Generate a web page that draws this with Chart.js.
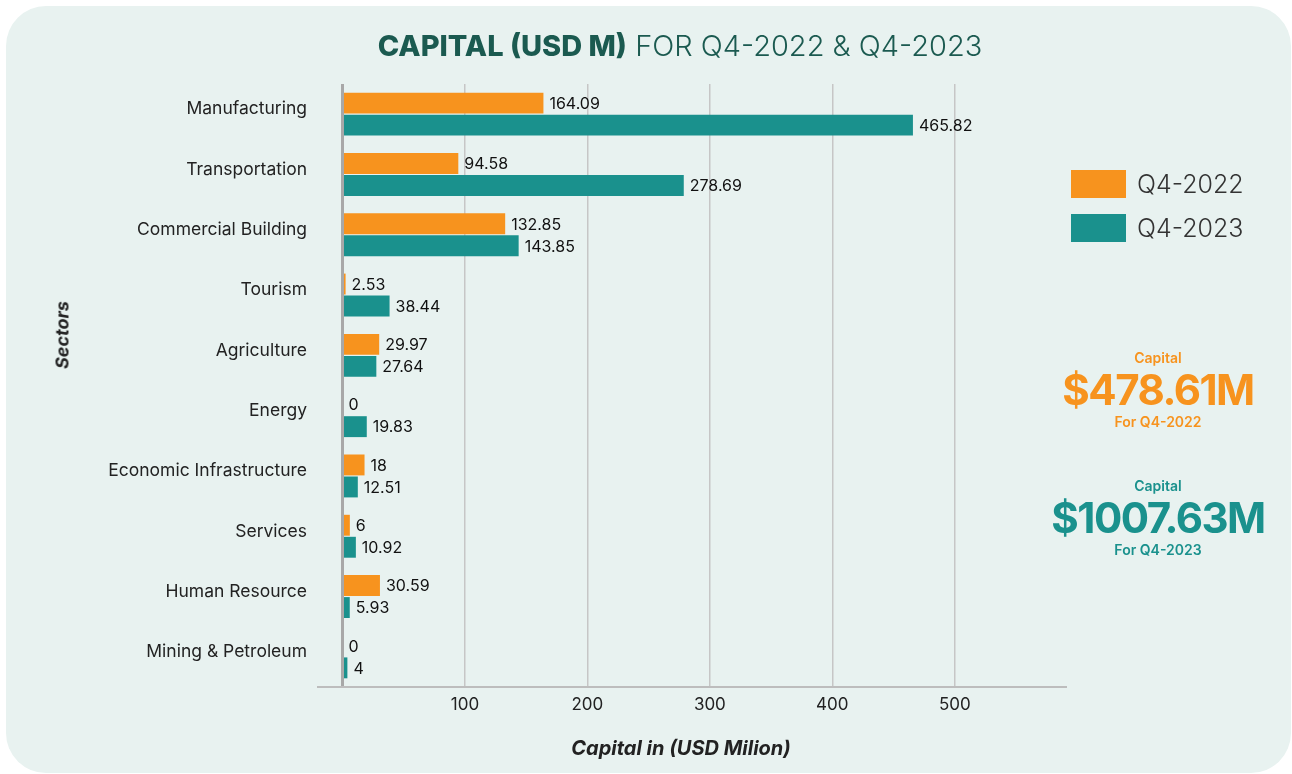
<!DOCTYPE html>
<html>
<head>
<meta charset="utf-8">
<title>Capital (USD M) Q4-2022 & Q4-2023</title>
<script src="https://cdn.jsdelivr.net/npm/chart.js@4"></script>
<style>
    body { margin: 0; background: #ffffff; font-family: Inter, "Noto Sans", sans-serif; }
    .tarjeta { position: absolute; left: 6px; top: 6px; width: 1285px; height: 767px; background: #e8f2f0; border-radius: 40px; }
    #graficoBarras { position: absolute; left: 0; top: 0; }
    .texto { position: absolute; white-space: nowrap; }
    .titulo { left: 180px; width: 1000px; top: 28px; text-align: center; font-size: 29px; line-height: 36px; color: #1b5a50; font-weight: 300; }
    .titulo b { font-weight: 800; }
    .ejeY { left: 62px; top: 335px; transform: translate(-50%, -50%) rotate(-90deg); font-size: 18px; font-weight: 700; font-style: italic; color: #222; }
    .ejeX { left: 681px; top: 748px; transform: translate(-50%, -50%); font-size: 20px; font-weight: 700; font-style: italic; color: #222; }
    .leyenda { position: absolute; left: 1071px; top: 170px; }
    .leyenda div { display: flex; align-items: center; height: 28px; margin-bottom: 16px; font-size: 25px; font-weight: 300; color: #333; }
    .leyenda span { display: inline-block; width: 55px; height: 28px; margin-right: 11px; }
    .kpi { left: 1158px; transform: translate(-50%, -50%); text-align: center; }
    .kpi.chico { font-size: 14px; font-weight: 600; }
    .kpi.grande { font-size: 42px; font-weight: 700; letter-spacing: -1.5px; }
</style>
</head>
<body>
<div class="tarjeta"></div>
<canvas id="graficoBarras" width="1292" height="774"></canvas>
<div class="texto titulo"><b>CAPITAL (USD M)</b> FOR Q4-2022 &amp; Q4-2023</div>
<div class="texto ejeY">Sectors</div>
<div class="texto ejeX">Capital in (USD Milion)</div>
<div class="leyenda" id="leyenda"></div>
<div id="resumen"></div>

<script>
var sectores = ['Manufacturing', 'Transportation', 'Commercial Building', 'Tourism', 'Agriculture',
    'Energy', 'Economic Infrastructure', 'Services', 'Human Resource', 'Mining & Petroleum'];
var periodos = ['Q4-2022', 'Q4-2023'];
var capital2022 = [164.09, 94.58, 132.85, 2.53, 29.97, 0, 18, 6, 30.59, 0];
var capital2023 = [465.82, 278.69, 143.85, 38.44, 27.64, 19.83, 12.51, 10.92, 5.93, 4];
var marcasEje = [0, 100, 200, 300, 400, 500];
var totales = ['$478.61M', '$1007.63M'];

var colores = ['#f7931e', '#1a918d'];

// numeros al final de cada barra
var etiquetasValor = {
    id: 'etiquetasValor',
    afterDatasetsDraw: function (chart) {
        var ctx = chart.ctx;
        ctx.save();
        ctx.font = '16px Inter';
        ctx.fillStyle = '#111111';
        ctx.textBaseline = 'middle';
        chart.data.datasets.forEach(function (ds, i) {
            chart.getDatasetMeta(i).data.forEach(function (barra, j) {
                ctx.fillText(String(ds.data[j]), barra.x + 6, barra.y + 1);
            });
        });
        ctx.restore();
    }
};

var ctx = document.getElementById('graficoBarras').getContext('2d');
var myChart = new Chart(ctx, {
    type: 'bar',
    data: {
        labels: sectores,
        datasets: [{
            label: periodos[0],
            data: capital2022,
            backgroundColor: colores[0]
        }, {
            label: periodos[1],
            data: capital2023,
            backgroundColor: colores[1]
        }]
    },
    options: {
        indexAxis: 'y',
        responsive: false,
        animation: false,
        categoryPercentage: 0.73,
        barPercentage: 0.95,
        layout: { padding: { left: 0, right: 227, top: 84, bottom: 47 } },
        plugins: {
            legend: { display: false },
            tooltip: { enabled: false }
        },
        scales: {
            x: {
                min: -20,
                max: 590,
                afterBuildTicks: function (scale) {
                    scale.ticks = marcasEje.map(function (v) { return { value: v }; });
                },
                afterFit: function (scale) { scale.height = 40; },
                ticks: {
                    padding: 8,
                    color: '#222222',
                    font: { family: 'Inter', size: 17 },
                    callback: function (v) { return v === 0 ? '' : v; }
                },
                grid: {
                    drawTicks: false,
                    color: function (c) { return c.tick && c.tick.value === 0 ? '#a8a8a8' : '#c6c6c6'; },
                    lineWidth: function (c) { return c.tick && c.tick.value === 0 ? 3 : 1.5; }
                },
                border: { color: '#bdbdbd', width: 2 }
            },
            y: {
                afterFit: function (scale) { scale.width = 318; },
                ticks: {
                    padding: 11,
                    labelOffset: -5,
                    color: '#222222',
                    font: { family: 'Inter', size: 17.5 }
                },
                grid: { display: false, drawTicks: false },
                border: { display: false }
            }
        }
    },
    plugins: [etiquetasValor]
});

// leyenda y totales a la derecha
var leyenda = document.getElementById('leyenda');
periodos.forEach(function (p, i) {
    var fila = document.createElement('div');
    fila.innerHTML = '<span style="background:' + colores[i] + '"></span>' + p;
    leyenda.appendChild(fila);
});

var resumen = document.getElementById('resumen');
var centros = [389, 517];
totales.forEach(function (t, i) {
    var lineas = [['chico', 'Capital', centros[i] - 32], ['grande', t, centros[i]], ['chico', 'For ' + periodos[i], centros[i] + 32]];
    lineas.forEach(function (l) {
        var d = document.createElement('div');
        d.className = 'texto kpi ' + l[0];
        d.style.top = l[2] + 'px';
        d.style.color = colores[i];
        d.textContent = l[1];
        resumen.appendChild(d);
    });
});
</script>
</body>
</html>
